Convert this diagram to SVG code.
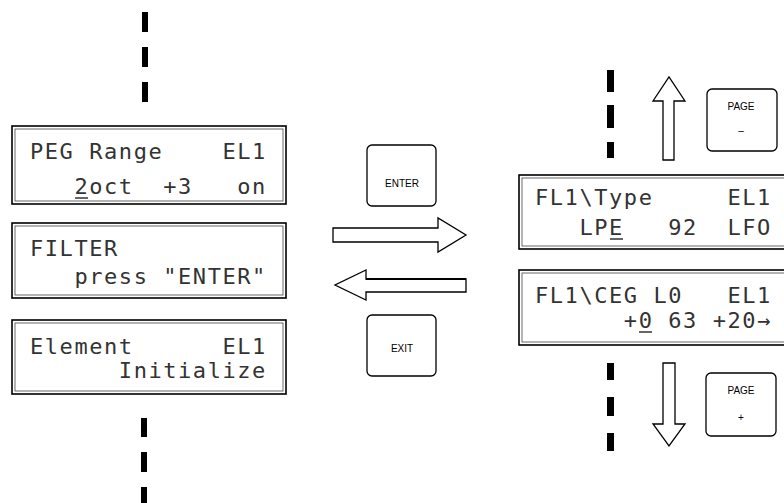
<svg xmlns="http://www.w3.org/2000/svg" width="784" height="503" viewBox="0 0 784 503">
<style>
.lcd{fill:#fff;stroke:#000;stroke-width:1.6}
.lcdin{fill:none;stroke:#444;stroke-width:0.8}
.t{font-family:"DejaVu Sans Mono","Liberation Mono",monospace;font-size:22px;letter-spacing:1.56px;fill:#333;white-space:pre}
.key{fill:#fff;stroke:#000;stroke-width:1.3}
.kt{font-family:"Liberation Sans",Arial,sans-serif;font-size:10px;text-anchor:middle;fill:#000}
.arr{fill:#fff;stroke:#000;stroke-width:1.3;stroke-linejoin:miter}
.dash{fill:#000}
.cur{stroke:#333;stroke-width:1.5}
</style>
<g id="connectors">
<rect class="dash" x="142" y="12" width="6" height="20"/>
<rect class="dash" x="142" y="47" width="6" height="20"/>
<rect class="dash" x="142" y="82" width="6" height="20"/>
<rect class="dash" x="141" y="418" width="6" height="19"/>
<rect class="dash" x="141" y="452" width="6" height="20"/>
<rect class="dash" x="141" y="487" width="6" height="16"/>
<rect class="dash" x="607" y="70" width="7" height="22"/>
<rect class="dash" x="607" y="105" width="7" height="23"/>
<rect class="dash" x="607" y="142" width="7" height="16"/>
<rect class="dash" x="607" y="363" width="7" height="17"/>
<rect class="dash" x="607" y="397" width="7" height="19"/>
<rect class="dash" x="607" y="433" width="7" height="18"/>
<polygon class="arr" points="333,228 438,228 438,218 466,235 438,252 438,242 333,242"/>
<polygon class="arr" points="466,279 366,279 366,270 335,285 366,300 366,292 466,292"/>
<line x1="366" y1="279" x2="466" y2="279" stroke="#000" stroke-width="2.2"/>
<polygon class="arr" points="663,160 663,101 653,101 669,77 685,101 674,101 674,160"/>
<polygon class="arr" points="663,363 675,363 675,424 685,424 669,446 653,424 663,424"/>
</g>
<g id="lcd-peg">
<rect class="lcd" x="12" y="126" width="274" height="78"/>
<rect class="lcdin" x="15" y="129" width="268" height="72"/>
<text class="t" x="30" y="159">PEG Range    EL1</text>
<text class="t" x="30" y="194">   2oct  +3   on</text>
<line class="cur" x1="75" y1="198" x2="88" y2="198"/>
</g>
<g id="lcd-filter">
<rect class="lcd" x="12" y="223" width="274" height="75"/>
<rect class="lcdin" x="15" y="226" width="268" height="69"/>
<text class="t" x="30" y="256">FILTER</text>
<text class="t" x="30" y="284">   press "ENTER"</text>
</g>
<g id="lcd-element">
<rect class="lcd" x="12" y="320" width="274" height="74"/>
<rect class="lcdin" x="15" y="323" width="268" height="68"/>
<text class="t" x="30" y="354">Element      EL1</text>
<text class="t" x="30" y="378">      Initialize</text>
</g>
<g id="key-enter">
<rect class="key" x="367" y="145" width="69" height="61" rx="5"/>
<text class="kt" x="402" y="187">ENTER</text>
</g>
<g id="key-exit">
<rect class="key" x="367" y="315" width="69" height="61" rx="5"/>
<text class="kt" x="402" y="352">EXIT</text>
</g>
<g id="key-page-minus">
<rect class="key" x="707" y="89" width="70" height="62" rx="5"/>
<text class="kt" x="741" y="110" font-size="11">PAGE</text>
<text class="kt" x="741" y="134" font-size="11">–</text>
</g>
<g id="key-page-plus">
<rect class="key" x="706" y="373" width="70" height="63" rx="5"/>
<text class="kt" x="741" y="394" font-size="11">PAGE</text>
<text class="kt" x="741" y="421" font-size="11">+</text>
</g>
<g id="lcd-type">
<rect class="lcd" x="519" y="175" width="280" height="74"/>
<rect class="lcdin" x="522" y="178" width="280" height="68"/>
<text class="t" x="535" y="205">FL1\Type     EL1</text>
<text class="t" x="535" y="235">   LPE   92  LFO</text>
<line class="cur" x1="610" y1="239" x2="623" y2="239"/>
</g>
<g id="lcd-ceg">
<rect class="lcd" x="519" y="270" width="280" height="75"/>
<rect class="lcdin" x="522" y="273" width="280" height="69"/>
<text class="t" x="535" y="303">FL1\CEG L0   EL1</text>
<text class="t" x="535" y="328">      +0 63 +20→</text>
<line class="cur" x1="639" y1="332" x2="652" y2="332"/>
</g>
</svg>
